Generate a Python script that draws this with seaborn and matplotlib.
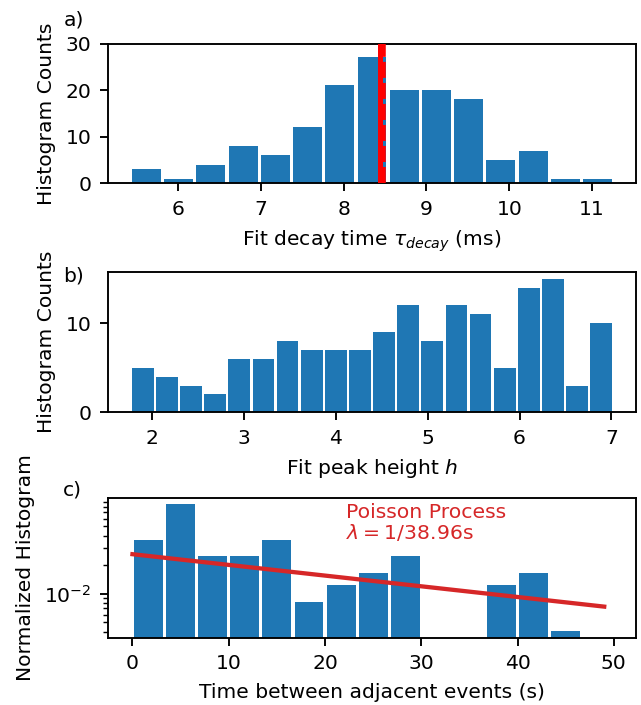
import numpy as np
import pandas as pd
import matplotlib
matplotlib.use("Agg")
import matplotlib.pyplot as plt
import seaborn as sns

# ---------------- data ----------------
# panel a: fit decay time histogram
a_edges = list(np.linspace(5.426, 11.259, 16))
a_counts = [3, 1, 4, 8, 6, 12, 21, 27, 20, 20, 18, 5, 7, 1, 1]
a_mean = 8.445
a_median = 8.485

# panel b: fit peak height histogram
b_edges = list(np.linspace(1.772, 7.019, 21))
b_counts = [5, 4, 3, 2, 6, 6, 8, 7, 7, 7, 9, 12, 8, 12, 11, 5, 14, 15, 3, 10]

# panel c: time between adjacent events (normalized histogram)
c_edges = list(np.linspace(0.0, 46.68, 15))
c_counts = [9, 21, 6, 6, 9, 2, 3, 4, 6, 0, 0, 3, 4, 1]
poisson_t = [0, 49]
poisson_y = [0.0257, 0.0073]
poisson_label = "Poisson Process\n$\\lambda = 1/38.96$s"

BLUE = "#1f77b4"
DPI = 171
W, H = 641, 705

plt.rcParams.update({
    "font.family": ["DejaVu Sans"],
    "font.size": 8.5,
    "axes.linewidth": 0.8,
    "mathtext.fontset": "dejavusans",
})

fig = plt.figure(figsize=(W / DPI, H / DPI), dpi=DPI)

def add_ax(top, bottom, left=108, right=636):
    return fig.add_axes([left / W, 1 - bottom / H, (right - left) / W, (bottom - top) / H])

ax_a = add_ax(43.5, 183.3)
ax_b = add_ax(272, 412.3)
ax_c = add_ax(498, 637.5)

def hist_frame(edges, counts):
    e = np.asarray(edges)
    return pd.DataFrame({"x": (e[:-1] + e[1:]) / 2, "w": np.asarray(counts, dtype=float)})

# ---- panel a
sns.histplot(data=hist_frame(a_edges, a_counts), x="x", weights="w", bins=a_edges,
             shrink=0.9, color=BLUE, alpha=1, linewidth=0, ax=ax_a)
ax_a.axvline(a_mean, color="red", lw=2.1, zorder=3)
ax_a.axvline(a_median, color="red", lw=1.5, ls=(0, (4.5, 1.4)), zorder=3)
ax_a.set_xlim(5.155, 11.53)
ax_a.set_ylim(0, 30)
ax_a.set_yticks([0, 10, 20, 30])
ax_a.set_xticks([6, 7, 8, 9, 10, 11])
ax_a.set_xlabel("Fit decay time $\\tau_{decay}$ (ms)")
ax_a.set_ylabel("Histogram Counts")

# ---- panel b
sns.histplot(data=hist_frame(b_edges, b_counts), x="x", weights="w", bins=b_edges,
             shrink=0.9, color=BLUE, alpha=1, linewidth=0, ax=ax_b)
ax_b.set_xlim(1.524, 7.267)
ax_b.set_ylim(0, 15.75)
ax_b.set_yticks([0, 10])
ax_b.set_xticks([2, 3, 4, 5, 6, 7])
ax_b.set_xlabel("Fit peak height $h$")
ax_b.set_ylabel("Histogram Counts")

# ---- panel c
sns.histplot(data=hist_frame(c_edges, c_counts), x="x", weights="w", bins=c_edges,
             shrink=0.9, stat="density", color=BLUE, alpha=1, linewidth=0, ax=ax_c)
sns.lineplot(x=poisson_t, y=poisson_y, color="#d62728", lw=1.8, ax=ax_c)
ax_c.set_yscale("log")
ax_c.set_xlim(-2.54, 52.3)
ax_c.set_ylim(0.00348, 0.099)
ax_c.set_xticks([0, 10, 20, 30, 40, 50])
ax_c.set_xlabel("Time between adjacent events (s)")
ax_c.set_ylabel("Normalized Histogram")
ax_c.text(22.2, 0.965, poisson_label, transform=ax_c.get_xaxis_transform(),
          color="#d62728", fontsize=8.6, ha="left", va="top", linespacing=1.0)

# panel letters
for lab, ybase in [("a)", 26), ("b)", 281.7), ("c)", 495)]:
    fig.text(63.3 / W, 1 - ybase / H, lab, ha="left", va="baseline")

fig.savefig("out.png", dpi=DPI)
